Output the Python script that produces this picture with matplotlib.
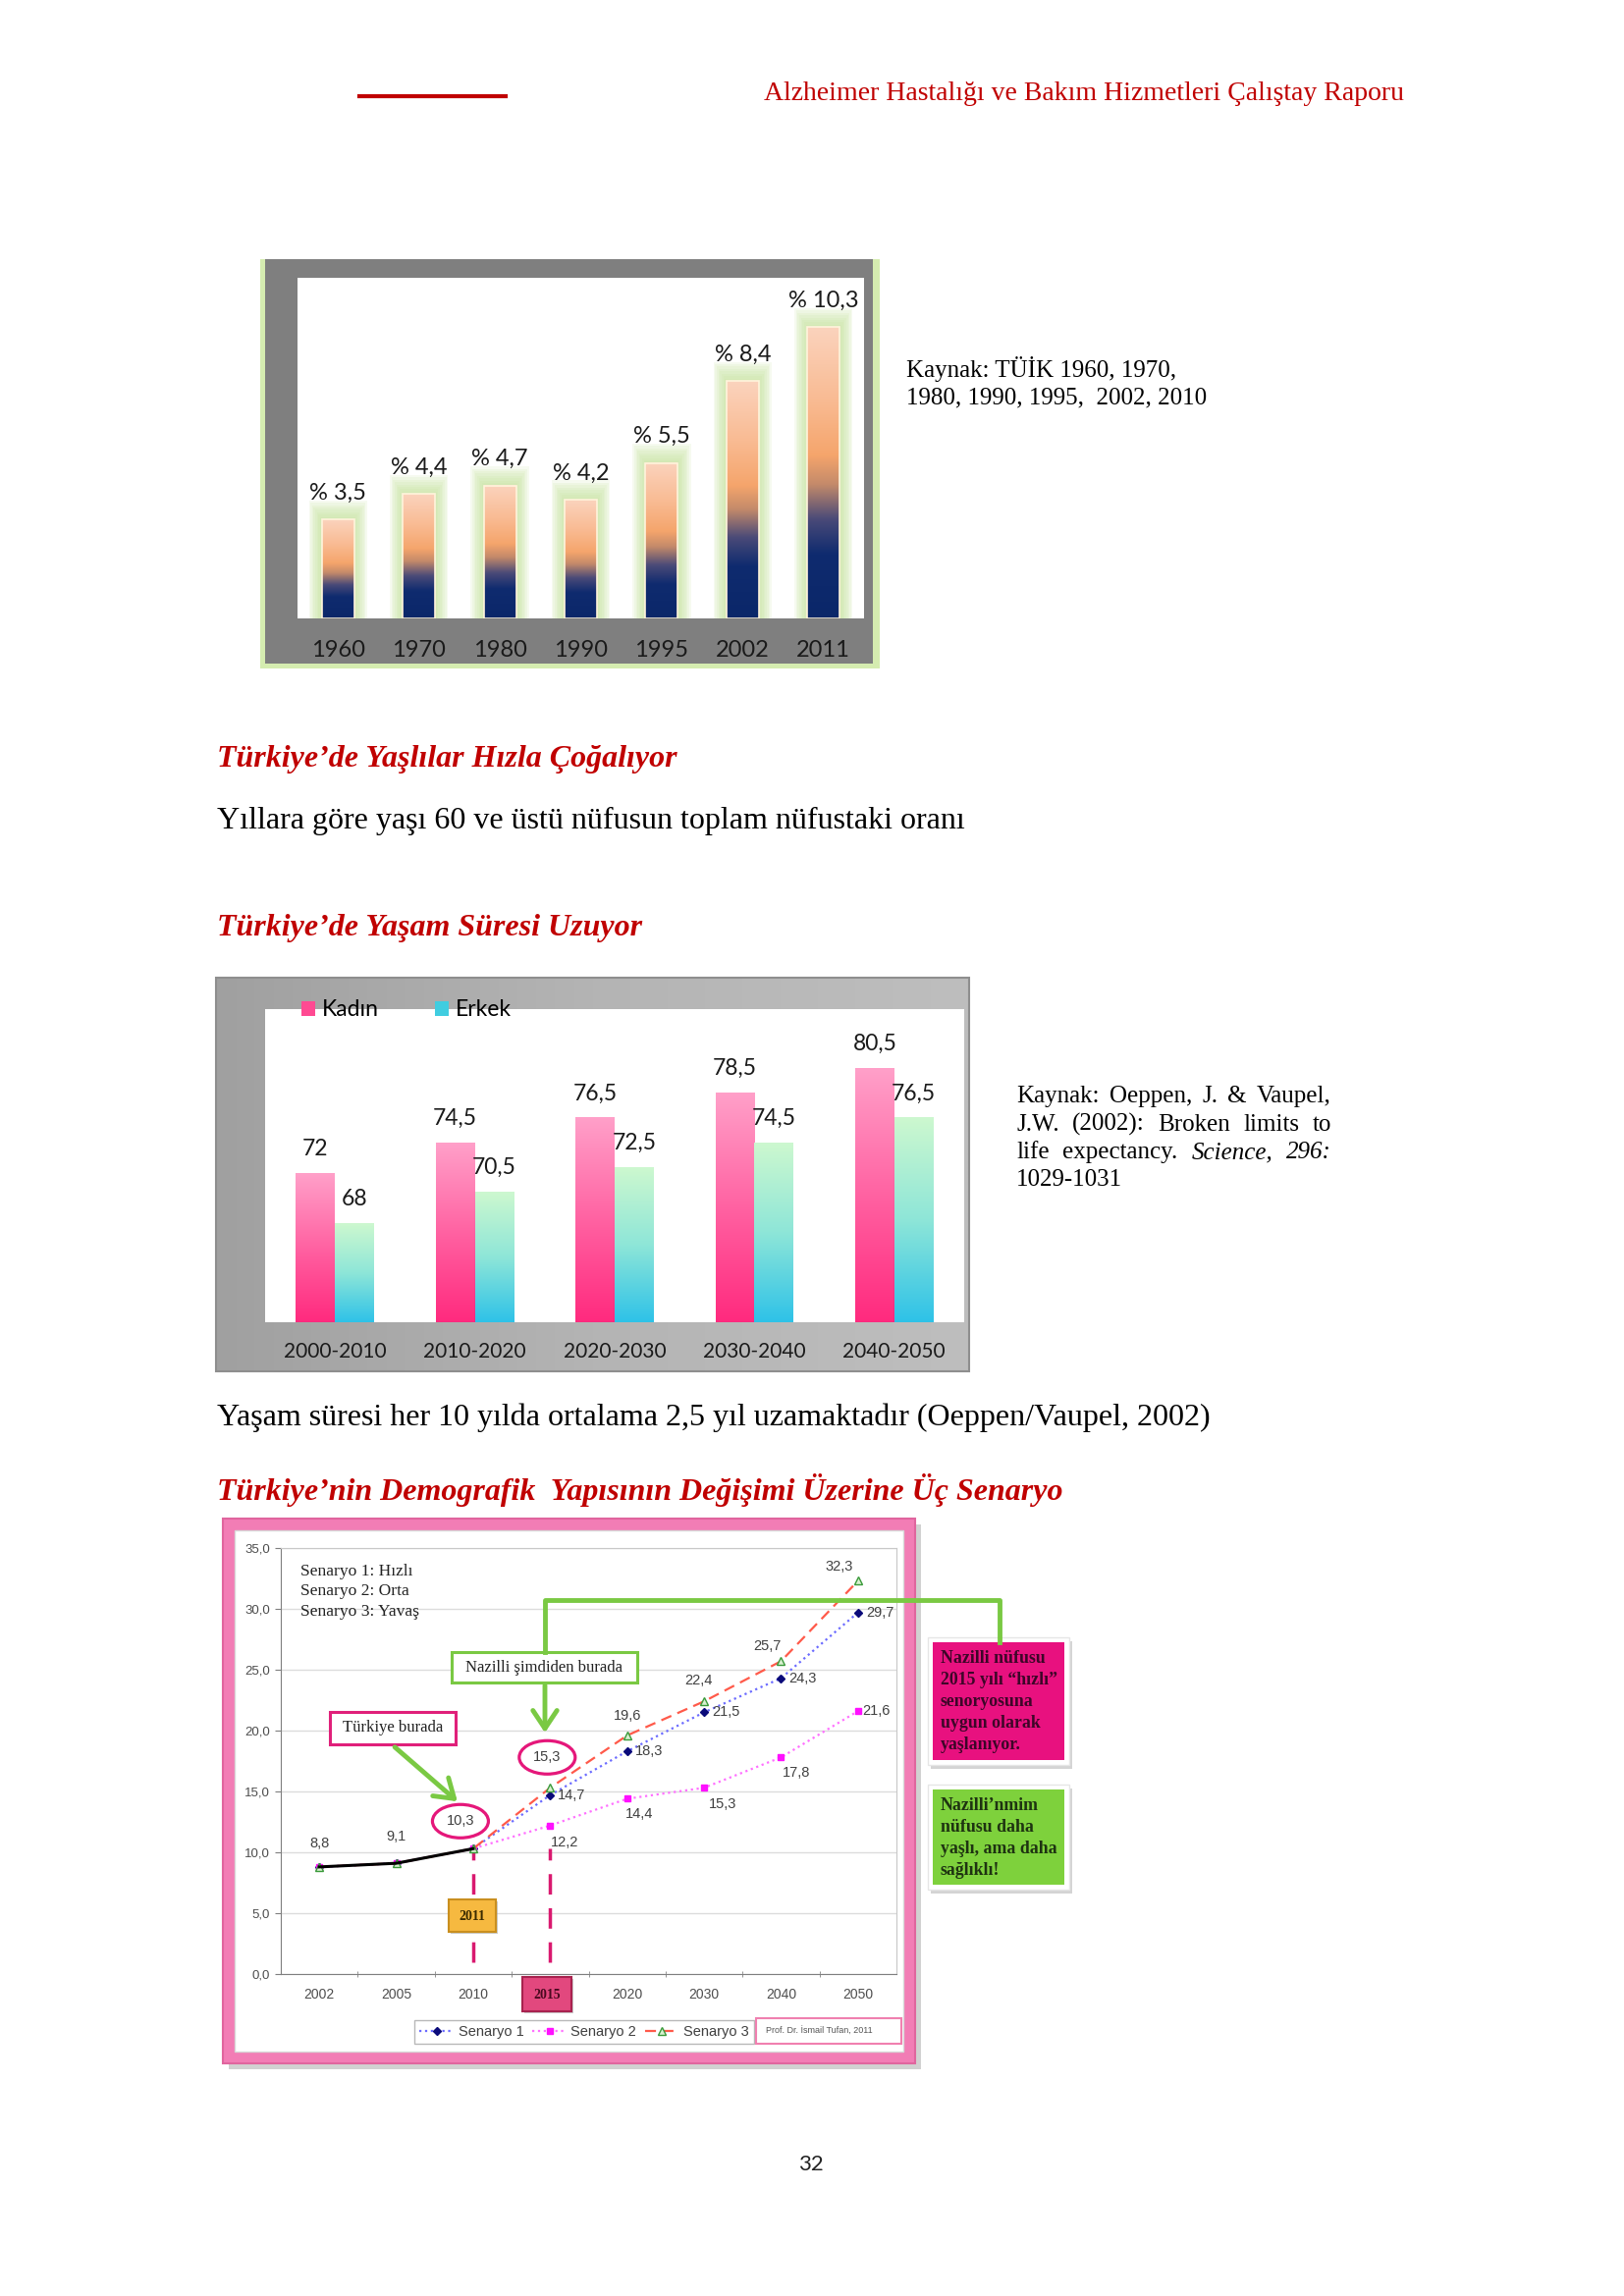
import numpy as np
import matplotlib
matplotlib.use("Agg")
import matplotlib.pyplot as plt
import matplotlib.transforms as mtransforms
from matplotlib.patches import Rectangle, Ellipse, FancyArrowPatch, Patch
from matplotlib.colors import LinearSegmentedColormap

W, H = 1654, 2339

# chart 1: share of 60+ population
years1 = ["1960", "1970", "1980", "1990", "1995", "2002", "2011"]
share60 = [3.5, 4.4, 4.7, 4.2, 5.5, 8.4, 10.3]

# chart 2: life expectancy
periods = ["2000-2010", "2010-2020", "2020-2030", "2030-2040", "2040-2050"]
kadin = [72, 74.5, 76.5, 78.5, 80.5]
erkek = [68, 70.5, 72.5, 74.5, 76.5]

# chart 3: three scenarios
years3 = ["2002", "2005", "2010", "2015", "2020", "2030", "2040", "2050"]
hist = [8.8, 9.1, 10.3]
sen1 = [8.8, 9.1, 10.3, 14.7, 18.3, 21.5, 24.3, 29.7]
sen2 = [8.8, 9.1, 10.3, 12.2, 14.4, 15.3, 17.8, 21.6]
sen3 = [8.8, 9.1, 10.3, 15.3, 19.6, 22.4, 25.7, 32.3]
yticks3 = [0, 5, 10, 15, 20, 25, 30, 35]

SERIF = ["Liberation Serif", "DejaVu Serif"]
SANS = ["Lato", "DejaVu Sans"]
NARROW = ["Liberation Sans Narrow", "Liberation Sans", "DejaVu Sans"]
RED = "#c00000"
BODY = 23


def fmt(v):
    return f"{v:g}".replace(".", ",")


def px_rect(x0, y0, x1, y1):
    return [x0 / W, 1 - y1 / H, (x1 - x0) / W, (y1 - y0) / H]


def vgrad(ax, x0, x1, y0, y1, cmap, z):
    ax.imshow(np.linspace(0, 1, 256)[:, None], extent=[x0, x1, y0, y1],
              origin="lower", cmap=cmap, aspect="auto", zorder=z,
              interpolation="bicubic")


def blank(ax):
    ax.axis("off")
    ax.set_xticks([])
    ax.set_yticks([])


fig = plt.figure(figsize=(W / 100, H / 100), dpi=100)
page = fig.add_axes([0, 0, 1, 1])
blank(page)

# header
page.plot([366, 515], [98, 98], color=RED, lw=3)
page.text(1430, 95, "Alzheimer Hastalığı ve Bakım Hizmetleri Çalıştay Raporu",
          ha="right", va="center", fontsize=20, family=SERIF, color=RED)

# ---------------- chart 1 ----------------
page.add_patch(Rectangle((265, 264), 631, 417, fc="#d5ecb0", lw=0))
page.add_patch(Rectangle((270, 264), 619, 412, fc="#7f7f7f", lw=0))
page.add_patch(Rectangle((303, 283), 577, 347, fc="white", lw=0))

cmap1 = LinearSegmentedColormap.from_list("c1", [
    (0.0, "#0b2769"), (0.22, "#0f2b6f"), (0.34, "#4a4a78"), (0.46, "#c48a6a"),
    (0.56, "#f5a56c"), (0.75, "#f9bb93"), (1.0, "#fbd3bd")])
ax1 = fig.add_axes(px_rect(303, 283, 880, 630))
x1 = np.arange(len(years1))
for k in range(8, 0, -1):
    ax1.bar(x1, np.array(share60) + 0.085 * k, width=0.4 + 0.04 * k,
            color="#c4e29a", alpha=0.14, lw=0, zorder=1)
bars1 = ax1.bar(x1, share60, width=0.4, color="#0b2769", lw=0, zorder=2)
for b in bars1:
    vgrad(ax1, b.get_x(), b.get_x() + b.get_width(), 0, b.get_height(), cmap1, 3)
    ax1.add_patch(Rectangle((b.get_x(), 0), b.get_width(), b.get_height(),
                            fill=False, ec="#fff4dc", lw=1.2, zorder=4))
for i, v in enumerate(share60):
    ax1.annotate(f"% {fmt(v)}", (i, v), xytext=(0, 27), textcoords="offset pixels",
                 ha="center", va="center", fontsize=17, family=SANS, color="#1a1a1a")
for i, yr in enumerate(years1):
    ax1.text(i, -0.095, yr, transform=ax1.get_xaxis_transform(), ha="center",
             va="center", fontsize=17, family=SANS, color="#1a1a1a")
blank(ax1)
ax1.set_xlim(-0.5, 6.5)
ax1.set_ylim(0, 12.05)

page.text(923, 376, "Kaynak: TÜİK 1960, 1970,", va="center", fontsize=18, family=SERIF)
page.text(923, 405, "1980, 1990, 1995,  2002, 2010", va="center", fontsize=18, family=SERIF)

page.text(221, 773, "Türkiye’de Yaşlılar Hızla Çoğalıyor", va="center", fontsize=BODY,
          family=SERIF, weight="bold", style="italic", color=RED)
page.text(221, 836, "Yıllara göre yaşı 60 ve üstü nüfusun toplam nüfustaki oranı",
          va="center", fontsize=BODY, family=SERIF)
page.text(221, 945, "Türkiye’de Yaşam Süresi Uzuyor", va="center", fontsize=BODY,
          family=SERIF, weight="bold", style="italic", color=RED)

# ---------------- chart 2 ----------------
gray_grad = LinearSegmentedColormap.from_list("g2", ["#a0a0a0", "#b4b4b4", "#bebebe"])
page.imshow(np.linspace(0, 1, 256)[None, :], extent=[220, 987, 1397, 996],
            cmap=gray_grad, aspect="auto", zorder=1)
page.add_patch(Rectangle((220, 996), 767, 401, fill=False, ec="#8e8e8e", lw=1.5, zorder=2))
page.add_patch(Rectangle((270, 1028), 712, 319, fc="white", lw=0, zorder=2))

cmap_k = LinearSegmentedColormap.from_list("k", [(0, "#ff2a7e"), (0.45, "#ff5c9e"), (1, "#ffa0c9")])
cmap_e = LinearSegmentedColormap.from_list("e", [(0, "#2ec2e8"), (0.5, "#8ee6d8"), (1, "#cdf8cf")])
ax2 = fig.add_axes(px_rect(270, 1028, 982, 1347))
x2 = np.arange(len(periods))
ylo2 = 60
bk = ax2.bar(x2 - 0.14, kadin, 0.28, color="#ff4a92", lw=0, zorder=2)
be = ax2.bar(x2 + 0.14, erkek, 0.28, color="#40cde0", lw=0, zorder=2)
for bars, cm in ((bk, cmap_k), (be, cmap_e)):
    for b in bars:
        vgrad(ax2, b.get_x(), b.get_x() + b.get_width(), ylo2, b.get_height(), cm, 3)
for xs, vals in ((x2 - 0.14, kadin), (x2 + 0.14, erkek)):
    for xi, v in zip(xs, vals):
        ax2.annotate(fmt(v), (xi, v), xytext=(0, 25), textcoords="offset pixels",
                     ha="center", va="center", fontsize=16.5, family=SANS, color="#1a1a1a")
for i, p in enumerate(periods):
    ax2.text(i, -0.095, p, transform=ax2.get_xaxis_transform(), ha="center",
             va="center", fontsize=15, family=SANS, color="#1a1a1a")
ax2.legend([Patch(fc="#ff4a92"), Patch(fc="#40cde0")], ["Kadın", "Erkek"],
           loc="center left", bbox_to_anchor=(0.052, 0.997), ncol=2, frameon=False,
           borderpad=0, borderaxespad=0, handlelength=0.6, handleheight=0.6,
           handletextpad=0.3, columnspacing=2.5, prop={"family": SANS, "size": 16.5})
blank(ax2)
ax2.set_xlim(-0.5, 4.5)
ax2.set_ylim(ylo2, 85.3)

# justified source text
renderer = fig.canvas.get_renderer()
src2 = [
    [("Kaynak:", "normal"), ("Oeppen,", "normal"), ("J.", "normal"), ("&", "normal"), ("Vaupel,", "normal")],
    [("J.W.", "normal"), ("(2002):", "normal"), ("Broken", "normal"), ("limits", "normal"), ("to", "normal")],
    [("life", "normal"), ("expectancy.", "normal"), ("Science,", "italic"), ("296:", "italic")],
    [("1029-1031", "normal")],
]
for li, words in enumerate(src2):
    y = 1117 + li * 28.5
    texts = [page.text(0, y, w, va="center", fontsize=18, family=SERIF, style=st)
             for w, st in words]
    widths = [t.get_window_extent(renderer).width for t in texts]
    last = li == len(src2) - 1
    gap = (1356 - 1035 - sum(widths)) / max(len(words) - 1, 1) if not last else 5
    xx = 1035
    for t, wd in zip(texts, widths):
        t.set_x(xx)
        xx += wd + gap

page.text(221, 1444, "Yaşam süresi her 10 yılda ortalama 2,5 yıl uzamaktadır (Oeppen/Vaupel, 2002)",
          va="center", fontsize=BODY, family=SERIF)
page.text(221, 1518, "Türkiye’nin Demografik  Yapısının Değişimi Üzerine Üç Senaryo",
          va="center", fontsize=BODY, family=SERIF, weight="bold", style="italic", color=RED)

# ---------------- chart 3 ----------------
page.add_patch(Rectangle((233, 1553), 705, 555, fc="#9a9a9a", alpha=0.45, lw=0, zorder=1))
page.add_patch(Rectangle((227, 1547), 705, 555, fc="#f27db5", ec="#e0659e", lw=1.5, zorder=2))
page.add_patch(Rectangle((239, 1559), 681, 531, fc="white", ec="#d8d8d8", lw=1, zorder=2))

ax3 = fig.add_axes(px_rect(286, 1577, 913, 2011))
ax3.set_facecolor("none")
x3 = np.arange(len(years3))
for s in ("top", "right"):
    ax3.spines[s].set_color("#c8c8c8")
for s in ("left", "bottom"):
    ax3.spines[s].set_color("#7f7f7f")
ax3.set_yticks(yticks3)
ax3.set_yticklabels([f"{v:.1f}".replace(".", ",") for v in yticks3])
ax3.yaxis.grid(True, color="#dcdcdc", lw=1)
ax3.set_axisbelow(True)
ax3.set_xticks(x3)
ax3.set_xticklabels(years3)
ax3.set_xticks(x3[:-1] + 0.5, minor=True)
ax3.tick_params(axis="x", which="major", length=0, pad=10, labelsize=10, labelcolor="#4d4d4d")
ax3.tick_params(axis="x", which="minor", length=5, direction="inout", color="#7f7f7f")
ax3.tick_params(axis="y", length=4, direction="out", color="#7f7f7f", labelsize=9.5,
                labelcolor="#4d4d4d", pad=4)
for lbl in ax3.get_xticklabels() + ax3.get_yticklabels():
    lbl.set_family(NARROW)

l1, = ax3.plot(x3, sen1, ls=":", color="#6b6bff", lw=1.6, marker="D", ms=4.5,
               mfc="#0a0a7a", mec="#0a0a7a", label="Senaryo 1", zorder=3)
l2, = ax3.plot(x3, sen2, ls=":", color="#ff70ff", lw=1.6, marker="s", ms=4.5,
               mfc="#ff10ff", mec="#ff10ff", label="Senaryo 2", zorder=3)
l3, = ax3.plot(x3, sen3, ls=(0, (5, 3)), color="#ff5a4a", lw=1.6, marker="^", ms=5.5,
               mfc="#d8f0d0", mec="#3a9a3a", label="Senaryo 3", zorder=3)
ax3.plot(x3[:len(hist)], hist, color="black", lw=2.2, zorder=4)
ax3.vlines(x3[2:4], 1.0, hist[-1], colors="#d9196f", linestyles=(0, (6, 4)), lw=2.5, zorder=2)

lab = dict(fontsize=10.5, color="#404040", family=NARROW, zorder=6)
for xi, v, off in zip(x3[:2], hist[:2], [(0, 24), (0, 27)]):
    ax3.annotate(fmt(v), (xi, v), xytext=off, textcoords="offset pixels", ha="center", va="center", **lab)
for xi, v in zip(x3[3:], sen1[3:]):
    ax3.annotate(fmt(v), (xi, v), xytext=(8, 0), textcoords="offset pixels", ha="left", va="center", **lab)
for xi, v, off in zip(x3[3:], sen2[3:], [(15, -17), (12, -16), (19, -17), (16, -16), (19, 0)]):
    ax3.annotate(fmt(v), (xi, v), xytext=off, textcoords="offset pixels", ha="center", va="center", **lab)
for xi, v, off in zip(x3[4:], sen3[4:], [(0, 20), (-6, 21), (-14, 15), (-19, 14)]):
    ax3.annotate(fmt(v), (xi, v), xytext=off, textcoords="offset pixels", ha="center", va="center", **lab)


def circled(ax, x, y, dx, dy, text):
    ax.annotate(text, (x, y), xytext=(dx, dy), textcoords="offset pixels",
                ha="center", va="center", **lab)
    tr = mtransforms.ScaledTranslation(x, y, ax.transData)
    ax.add_patch(Ellipse((dx, dy), 57, 34, transform=tr, fill=False, ec="#e5177a",
                         lw=2.3, clip_on=False, zorder=6))


circled(ax3, x3[2], hist[-1], -13, 28, fmt(hist[-1]))
circled(ax3, x3[3], sen3[3], -3, 31, fmt(sen3[3]))

ax3.text(0.032, 0.964, "Senaryo 1: Hızlı\nSenaryo 2: Orta\nSenaryo 3: Yavaş",
         transform=ax3.transAxes, va="top", ha="left", fontsize=12.6, family=SERIF,
         linespacing=1.4, color="#222222")

leg3 = ax3.legend(handles=[l1, l2, l3], loc="center", bbox_to_anchor=(0.493, -0.136),
                  ncol=3, frameon=True, fancybox=False, edgecolor="#a6a6a6",
                  prop={"family": NARROW, "size": 10.5}, handlelength=2.4,
                  handletextpad=0.3, columnspacing=0.6, borderpad=0.35)
for t in leg3.get_texts():
    t.set_color("#404040")
ax3.set_xlim(-0.5, 7.5)
ax3.set_ylim(0, 35)

# ---------------- overlay annotations ----------------
top = fig.add_axes([0, 0, 1, 1])
blank(top)
top.patch.set_visible(False)
GREEN = "#7ac943"

top.add_patch(Rectangle((336, 1744), 128, 33, fc="white", ec="#e0207a", lw=2.2))
top.text(400, 1760, "Türkiye burada", ha="center", va="center", fontsize=12, family=SERIF, color="#222")
top.add_patch(FancyArrowPatch((400, 1778), (468, 1837), arrowstyle="->,head_length=0.6,head_width=0.4",
                              mutation_scale=22, lw=3.5, color=GREEN))
top.add_patch(Rectangle((460, 1683), 189, 31, fc="white", ec=GREEN, lw=2.2))
top.text(554, 1699, "Nazilli şimdiden burada", ha="center", va="center", fontsize=12, family=SERIF, color="#222")
top.add_patch(FancyArrowPatch((555, 1714), (555, 1768), arrowstyle="->,head_length=0.6,head_width=0.4",
                              mutation_scale=22, lw=3.5, color=GREEN))
top.plot([555, 555, 1018, 1018], [1683, 1630, 1630, 1673], color=GREEN, lw=3.5,
         solid_joinstyle="round")

top.add_patch(Rectangle((459, 1937), 48, 33, fc="#999999", alpha=0.5, lw=0))
top.add_patch(Rectangle((457, 1935), 48, 33, fc="#f6b940", ec="#c98f1f", lw=1.5))
top.text(481, 1952, "2011", ha="center", va="center", fontsize=10, family=SERIF, weight="bold", color="#3a2a00")
top.add_patch(Rectangle((534, 2016), 50, 35, fc="#999999", alpha=0.5, lw=0))
top.add_patch(Rectangle((532, 2014), 50, 35, fc="#e2487e", ec="#a8234f", lw=1.5))
top.text(557, 2032, "2015", ha="center", va="center", fontsize=10, family=SERIF, weight="bold", color="#4a0a20")

top.add_patch(Rectangle((770, 2056), 148, 26, fc="white", ec="#f080b0", lw=1.5))
top.text(780, 2069, "Prof. Dr. İsmail Tufan, 2011", ha="left", va="center", fontsize=6.5,
         family=NARROW, color="#555555")

# right-hand callouts
for (y0, y1, fc, tc, lines) in [
    (1673, 1793, "#e8117f", "#3d0628",
     ["Nazilli nüfusu", "2015 yılı “hızlı”", "senoryosuna", "uygun olarak", "yaşlanıyor."]),
    (1823, 1920, "#7ed13c", "#1e3311",
     ["Nazilli’nmim", "nüfusu daha", "yaşlı, ama daha", "sağlıklı!"]),
]:
    top.add_patch(Rectangle((948, y0 - 1), 144, y1 - y0 + 10, fc="#a0a0a0", alpha=0.45, lw=0))
    top.add_patch(Rectangle((945, y0 - 5), 144, y1 - y0 + 10, fc="white", ec="#e6e6e6", lw=1))
    top.add_patch(Rectangle((950, y0), 134, y1 - y0, fc=fc, lw=0))
    for k, s in enumerate(lines):
        top.text(958, y0 + 17 + k * 22, s, ha="left", va="center", fontsize=12.8,
                 family=SERIF, weight="bold", color=tc)

page.text(826, 2205, "32", ha="center", va="center", fontsize=16, family=SANS, color="#222222")

for a in (page, top):
    a.set_xlim(0, W)
    a.set_ylim(H, 0)

fig.savefig("out.png", dpi=100)
